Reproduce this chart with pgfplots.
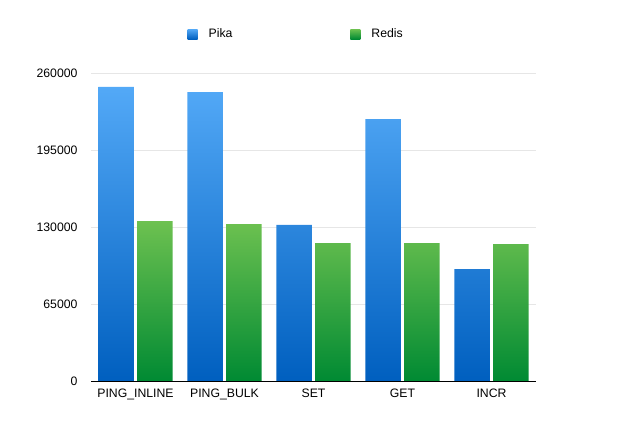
\documentclass[border=0pt]{standalone}
\usepackage{pgfplots}
\pgfplotsset{compat=1.18}
\usepackage{fontspec}
\setmainfont{Liberation Sans}
\definecolor{bluetop}{HTML}{53A9F7}
\definecolor{bluebot}{HTML}{005FBF}
\definecolor{greentop}{HTML}{6DC150}
\definecolor{greenbot}{HTML}{008A33}
\definecolor{gridc}{HTML}{E6E6E6}
\begin{document}
\begin{tikzpicture}
\useasboundingbox (0,0) rectangle (641bp,439bp);
\begin{axis}[
  at={(91bp,58bp)}, anchor=south west,
  width=445bp, height=307.6bp, scale only axis,
  ymin=0, ymax=260000,
  xmin=-0.5, xmax=4.5,
  ybar, bar width=0.4,
  ytick={0,65000,130000,195000,260000},
  yticklabels={0,65000,130000,195000,260000},
  scaled y ticks=false,
  xtick={0,1,2,3,4},
  xticklabels={PING\_INLINE,PING\_BULK,SET,GET,INCR},
  ymajorgrids, grid style={gridc, line width=0.8bp},
  axis x line*=bottom, axis y line*=left,
  x axis line style={black, line width=0.8bp, -},
  y axis line style={draw=none},
  major tick length=0pt,
  tick style={draw=none},
  xticklabel style={font=\fontsize{12.3}{14}\selectfont, yshift=-4bp},
  yticklabel style={font=\fontsize{12.3}{14}\selectfont, anchor=east, xshift=-10bp},
  legend style={at={(axis description cs:0.210,1.128)}, anchor=west, draw=none, fill=none,
    font=\fontsize{12.3}{14}\selectfont, legend columns=2,
    /tikz/every even column/.append style={column sep=116bp}},
  legend image code/.code={\path[#1] (0bp,-5bp) rectangle (10bp,5bp); \path (0bp,0bp) -- (19bp,0bp);},
  clip=false,
]
\addplot[draw=none, top color=bluetop, bottom color=bluebot, bar shift=-0.218]
  coordinates {(0,248700) (1,244200) (2,132000) (3,221400) (4,94600)};
\addplot[draw=none, top color=greentop, bottom color=greenbot, bar shift=0.218]
  coordinates {(0,135200) (1,132600) (2,116600) (3,116600) (4,115700)};
\legend{Pika,Redis}
\end{axis}
\end{tikzpicture}
\end{document}
